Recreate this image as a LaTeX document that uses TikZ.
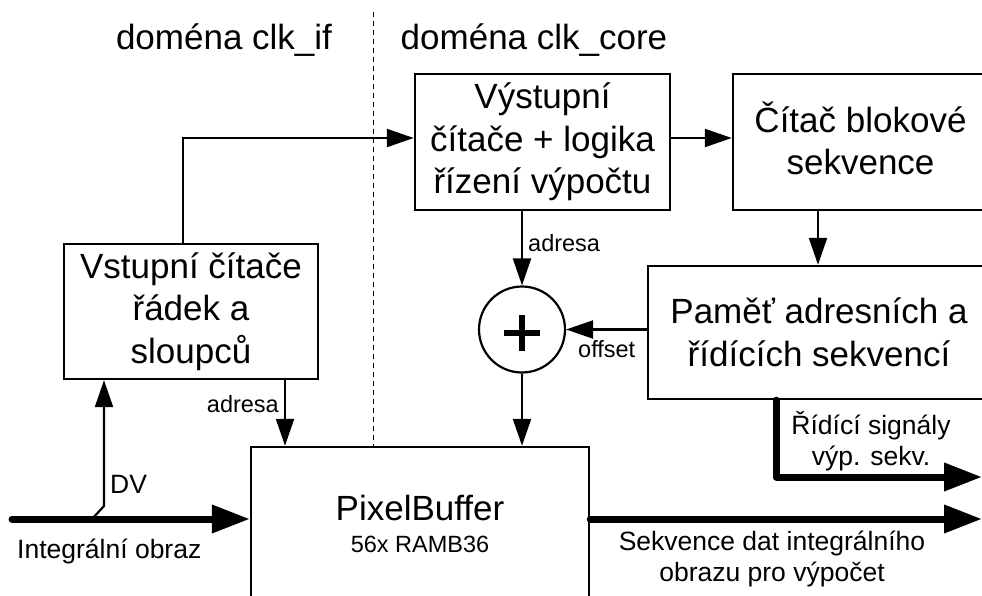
\documentclass[tikz,border=0pt]{standalone}
\usepackage{fontspec}
\setmainfont{Liberation Sans}
\usetikzlibrary{arrows.meta}
\tikzset{
  bigfont/.style={font=\fontsize{35}{42.5}\selectfont},
  midfont/.style={font=\fontsize{26.5}{31.5}\selectfont},
  smallfont/.style={font=\fontsize{23.5}{28}\selectfont},
  blockbox/.style={draw, line width=2.4pt, align=center, inner sep=0pt, bigfont},
  arr/.style={line width=2.2pt, -{Triangle[length=27pt,width=18pt]}},
  thickarr/.style={line width=7pt, line cap=round, line join=round, -{Triangle[length=38pt,width=27pt]}},
  sepline/.style={dash pattern=on 5pt off 4pt, line width=1pt},
}
\begin{document}
\begin{tikzpicture}[x=1pt,y=-1pt]
\fill[white] (0,0) rectangle (982,596);
\clip (0,0) rectangle (982,596);

% clock domain separator
\coordinate (dtop) at (373,12);
\node[bigfont, anchor=base] (tif) at (224,50) {doména clk\_if};
\node[bigfont, anchor=base] (tcore) at (534,50) {doména clk\_core};

% blocks
\node[blockbox, minimum width=254pt, minimum height=135pt] (vstup) at (191,311.5) {Vstupní čítače\\řádek a\\sloupců};
\node[blockbox, minimum width=255pt, minimum height=136pt] (vystup) at (542.5,142) {Výstupní\\čítače + logika\\řízení výpočtu};
\node[blockbox, minimum width=255pt, minimum height=136pt, text depth=8pt] (citac) at (860.5,142) {Čítač blokové\\sekvence};
\node[blockbox, minimum width=342pt, minimum height=133pt] (pamet) at (819,332.5) {Paměť adresních a\\řídících sekvencí};
\node[draw, line width=2.4pt, minimum width=338pt, minimum height=173pt, inner sep=0pt] (pb) at (420,533.5) {};
\node[bigfont, anchor=base] (pbt) at (420,520) {PixelBuffer};
\node[smallfont, anchor=base] (pbs) at (420,552) {56x RAMB36};
\node[draw, circle, line width=2.2pt, minimum size=86pt, inner sep=0pt] (sum) at (522,329.5) {};
\draw[line width=6pt] ([yshift=-3.5pt]sum.center) ++(-18,0) -- ++(36,0);
\draw[line width=6pt] ([yshift=-3.5pt]sum.center) ++(0,-18) -- ++(0,36);

\draw[sepline] (dtop) -- (pb.north -| dtop);

% coordinates
\coordinate (xa) at (285,0);
\coordinate (xv) at (183,0);
\coordinate (in) at (12,519);
\coordinate (dvk) at (92,519);
\coordinate (dvb) at (104,506);
\coordinate (out) at (982,519);
\coordinate (rs) at (982,477);
\coordinate (xr) at (776,0);
\coordinate (y1) at (0,138);

% thin connectors
\draw[arr] (vstup.north -| xv) |- (vystup.west |- y1);
\draw[arr] (vystup.east |- y1) -- (citac.west |- y1);
\draw[arr] (citac.south -| 818,0) -- (pamet.north -| 818,0);
\draw[arr] (vystup.south -| sum) -- (sum.north);
\draw[arr] (pamet.west |- sum) -- (sum.east);
\draw[arr] (sum.south) -- (pb.north -| sum);
\draw[arr] (vstup.south -| xa) -- (pb.north -| xa);
\draw[arr] (dvk) -- (dvb) -- (vstup.south -| dvb);

% thick connectors
\draw[thickarr] (in) -- (pb.west |- in);
\draw[thickarr] (pb.east |- out) -- (out);
\draw[thickarr] (pamet.south -| xr) |- (rs);

% labels
\node[smallfont, anchor=base west, inner sep=0pt] (la1) at (528,251) {adresa};
\node[smallfont, anchor=base east, inner sep=0pt] (la2) at (279,412) {adresa};
\node[smallfont, anchor=base west, inner sep=0pt] (lo) at (578,357) {offset};
\node[midfont, anchor=base west, inner sep=0pt] (ldv) at (110,493) {DV};
\node[midfont, anchor=base west, inner sep=0pt] (lin) at (17,558) {Integrální obraz};
\node[midfont, align=center, inner sep=0pt] (lout) at (772,558.8) {Sekvence dat integrálního\\obrazu pro výpočet};
\node[midfont, align=center, inner sep=0pt] (lrs) at (871,441.3) {Řídící signály\\výp. sekv.};
\end{tikzpicture}
\end{document}
